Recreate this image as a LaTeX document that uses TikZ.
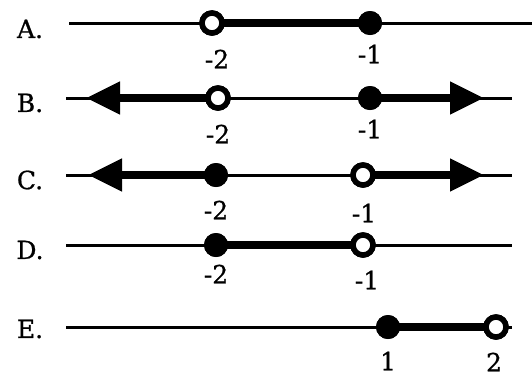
\documentclass[tikz,border=0pt]{standalone}
\usepackage{fontspec}
\setmainfont{DejaVu Serif}
\newfontfamily\labfont{DejaVu Serif}[FakeBold=0.8]
\usetikzlibrary{arrows.meta}
\begin{document}
\begin{tikzpicture}[x=1pt,y=-1pt,
  thinline/.style={line width=3pt},
  thickline/.style={line width=7.5pt},
  arrowline/.style={line width=7.5pt,-{Triangle[length=34pt,width=31pt]}},
  opendot/.style={circle,draw,fill=white,line width=5.5pt,minimum size=20pt,inner sep=0pt},
  fulldot/.style={circle,fill=black,minimum size=24pt,inner sep=0pt},
  lab/.style={font=\labfont\fontsize{25}{25}\selectfont,inner sep=0pt},
  rowlab/.style={font=\labfont\fontsize{25}{25}\selectfont,inner sep=0pt}]
\useasboundingbox (0,0) rectangle (532,376);
% Row A
\node[rowlab] (la) at (30,29) {A.};
\coordinate (a0) at (69,23);
\coordinate (a9) at (532,23);
\node[opendot] (a1) at (212,23) {};
\node[fulldot] (a2) at (370,23) {};
\draw[thinline] (a0) -- (a9);
\draw[thickline] (a1.center) -- (a2.center);
\node[opendot] at (a1) {};
\node[fulldot] at (a2) {};
\node[lab] at (217,59) {-2};
\node[lab] at (370,54) {-1};
% Row B
\node[rowlab] (lb) at (30,103) {B.};
\coordinate (b0) at (66,98);
\coordinate (b9) at (512,98);
\coordinate (bl) at (86,98);
\coordinate (br) at (484,98);
\node[opendot] (b1) at (218,98) {};
\node[fulldot] (b2) at (370,98) {};
\draw[thinline] (b0) -- (b9);
\draw[arrowline] (b1.center) -- (bl);
\draw[arrowline] (b2.center) -- (br);
\node[opendot] at (b1) {};
\node[fulldot] at (b2) {};
\node[lab] at (218,134) {-2};
\node[lab] at (370,129) {-1};
% Row C
\node[rowlab] (lc) at (30,180) {C.};
\coordinate (c0) at (66,175);
\coordinate (c9) at (512,175);
\coordinate (cl) at (88,175);
\coordinate (cr) at (484,175);
\node[fulldot] (c1) at (216,175) {};
\node[opendot] (c2) at (363,175) {};
\draw[thinline] (c0) -- (c9);
\draw[arrowline] (c1.center) -- (cl);
\draw[arrowline] (c2.center) -- (cr);
\node[fulldot] at (c1) {};
\node[opendot] at (c2) {};
\node[lab] at (216,210) {-2};
\node[lab] at (364,213) {-1};
% Row D
\node[rowlab] (ld) at (30,250) {D.};
\coordinate (d0) at (66,245);
\coordinate (d9) at (512,245);
\node[fulldot] (d1) at (216,245) {};
\node[opendot] (d2) at (363,245) {};
\draw[thinline] (d0) -- (d9);
\draw[thickline] (d1.center) -- (d2.center);
\node[fulldot] at (d1) {};
\node[opendot] at (d2) {};
\node[lab] at (216,274) {-2};
\node[lab] at (367,280) {-1};
% Row E
\node[rowlab] (le) at (30,329) {E.};
\coordinate (e0) at (66,327);
\coordinate (e9) at (512,327);
\node[fulldot] (e1) at (388,327) {};
\node[opendot] (e2) at (496,327) {};
\draw[thinline] (e0) -- (e9);
\draw[thickline] (e1.center) -- (e2.center);
\node[fulldot] at (e1) {};
\node[opendot] at (e2) {};
\node[lab] at (388,361) {1};
\node[lab] at (494,362) {2};
\end{tikzpicture}
\end{document}
